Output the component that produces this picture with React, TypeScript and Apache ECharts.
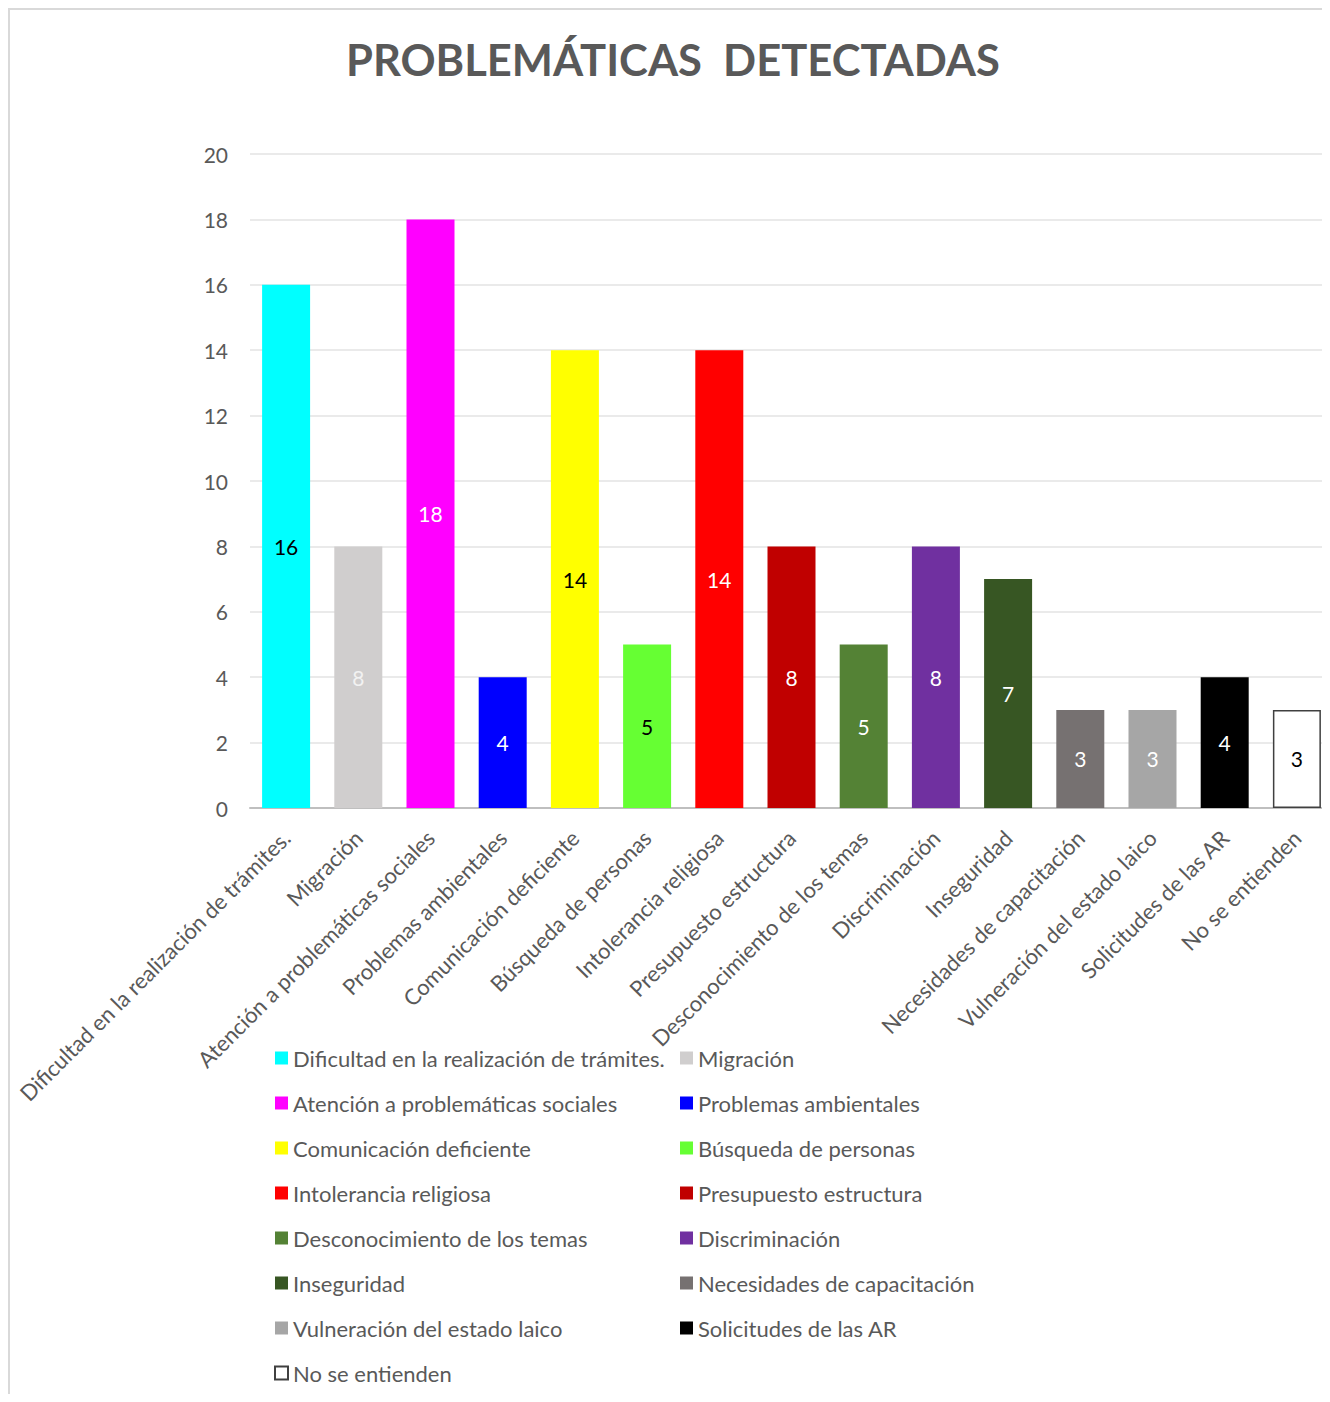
import React, { useEffect, useRef } from "react";
import * as echarts from "echarts";

const categories = [
  "Dificultad en la realización de trámites.",
  "Migración",
  "Atención a problemáticas sociales",
  "Problemas ambientales",
  "Comunicación deficiente",
  "Búsqueda de personas",
  "Intolerancia religiosa",
  "Presupuesto estructura",
  "Desconocimiento de los temas",
  "Discriminación",
  "Inseguridad",
  "Necesidades de capacitación",
  "Vulneración del estado laico",
  "Solicitudes de las AR",
  "No se entienden",
];
const values = [16, 8, 18, 4, 14, 5, 14, 8, 5, 8, 7, 3, 3, 4, 3];
const colors = [
  "#00FFFF", "#D0CECE", "#FF00FF", "#0000FF", "#FFFF00", "#66FF33", "#FF0000",
  "#C00000", "#548235", "#7030A0", "#375623", "#767171", "#A6A6A6", "#000000", "#FFFFFF",
];
const labelColors = [
  "#000000", "#F2F2F2", "#FFFFFF", "#FFFFFF", "#000000", "#000000", "#FFFFFF",
  "#FFFFFF", "#FFFFFF", "#FFFFFF", "#FFFFFF", "#FFFFFF", "#FFFFFF", "#FFFFFF", "#000000",
];
const yTicks = { min: 0, max: 20, interval: 2 };
const titleText = "PROBLEMÁTICAS  DETECTADAS";

const FONT = "Lato, 'Open Sans', sans-serif";
const W = 1330;
const H = 1386;

export default function App() {
  const ref = useRef<HTMLDivElement>(null);
  useEffect(() => {
    if (!ref.current) return;
    document.documentElement.style.overflow = "hidden";
    document.body.style.overflow = "hidden";
    const chart = echarts.init(ref.current, null, { renderer: "svg", width: W, height: H });
    const series = categories.map((name, i) => ({
      type: "bar",
      name,
      stack: "all",
      barWidth: 48,
      data: values.map((v, j) => (j === i ? v : "-")),
      itemStyle: {
        color: colors[i],
        borderColor: i === 14 ? "#404040" : colors[i],
        borderWidth: i === 14 ? 1.5 : 0,
      },
      label: {
        show: true,
        position: "inside",
        color: labelColors[i],
        fontSize: 21,
        fontFamily: FONT,
      },
    }));
    const leftNames = categories.filter((_, i) => i % 2 === 0);
    const rightNames = categories.filter((_, i) => i % 2 === 1);
    const legendBase = {
      orient: "vertical",
      top: 1038,
      padding: 0,
      itemWidth: 13,
      itemHeight: 13,
      itemGap: 21,
      icon: "rect",
      selectedMode: false,
      textStyle: { fontSize: 22, color: "#595959", lineHeight: 24, fontFamily: FONT },
    };
    chart.setOption({
      animation: false,
      backgroundColor: "#ffffff",
      title: {
        text: titleText,
        left: 333,
        top: 24,
        textStyle: { fontSize: 43.5, fontWeight: "bold", color: "#595959", fontFamily: FONT },
      },
      graphic: [
        {
          type: "rect",
          shape: { x: 1, y: 1, width: 1340, height: 1420 },
          style: { fill: "none", stroke: "#d9d9d9", lineWidth: 2 },
          silent: true,
        },
      ],
      legend: [
        { ...legendBase, left: 266, data: leftNames },
        { ...legendBase, left: 672, data: rightNames },
      ],
      grid: { left: 242, right: W - 1325, top: 146, bottom: H - 800, containLabel: false },
      xAxis: {
        type: "category",
        data: categories,
        axisTick: { show: false },
        axisLine: { lineStyle: { color: "#bfbfbf", width: 2 } },
        axisLabel: {
          rotate: 45,
          interval: 0,
          margin: 26,
          color: "#595959",
          fontSize: 22,
          fontFamily: FONT,
        },
      },
      yAxis: {
        type: "value",
        min: yTicks.min,
        max: yTicks.max,
        interval: yTicks.interval,
        axisLine: { show: false },
        axisTick: { show: false },
        axisLabel: { color: "#595959", fontSize: 21, fontFamily: FONT, margin: 22 },
        splitLine: { lineStyle: { color: "#e3e3e3", width: 1.5 } },
      },
      series,
    });
    return () => chart.dispose();
  }, []);
  return <div ref={ref} style={{ width: W, height: H, overflow: "hidden" }} />;
}
